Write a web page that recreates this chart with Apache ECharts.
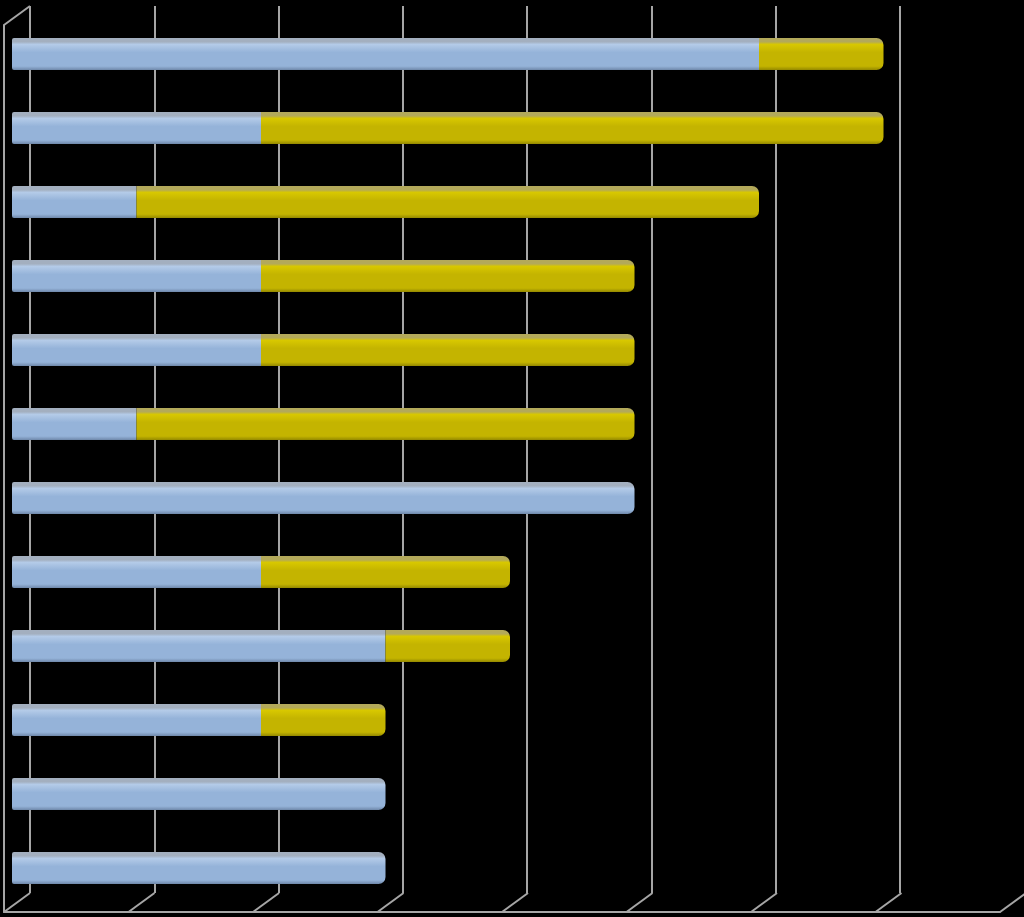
<!DOCTYPE html>
<html>
<head>
<meta charset="utf-8">
<script src="https://cdn.jsdelivr.net/npm/echarts@6/dist/echarts.min.js"></script>
<style>
html,body{margin:0;padding:0;background:#000;}
#chart{width:1024px;height:917px;}
</style>
</head>
<body>
<div id="chart"></div>
<script>
// ---- data ----
const categories = ["Row 1","Row 2","Row 3","Row 4","Row 5","Row 6","Row 7","Row 8","Row 9","Row 10","Row 11","Row 12"];
const blueValues = [6,2,1,2,2,1,5,2,3,2,3,3];
const yellowValues = [1,5,5,3,3,4,0,2,1,1,0,0];
const tickValues = [0,1,2,3,4,5,6,7,8];

// ---- styles ----
const gridColor = '#a6a6a6';
const depthDX = 26, depthDY = -19;

function grad(top, hi, mid, low){
  return new echarts.graphic.LinearGradient(0,0,0,1,[
    {offset:0, color:top},
    {offset:0.12, color:top},
    {offset:0.2, color:hi},
    {offset:0.45, color:mid},
    {offset:0.88, color:mid},
    {offset:1, color:low}
  ]);
}
const blueFill = grad('#a3afbf','#b4cbe8','#95b3d9','#6f88aa');
const yellowFill = grad('#b3a95a','#d8c800','#c4b400','#948800');

const blueData = blueValues.map((v,i)=>({
  value:v,
  itemStyle: yellowValues[i]===0 ? {borderRadius:[2,7,7,2]} : {borderRadius:[2,0,0,2]}
}));
const yellowData = yellowValues.map(v=>({value:v, itemStyle:{borderRadius:[0,7,7,0]}}));

const chart = echarts.init(document.getElementById('chart'), null, {renderer:'canvas'});
chart.setOption({
  backgroundColor:'#000',
  animation:false,
  grid:[
    {left:12, top:17, width:996, height:888},   // bars
    {left:30, top:6, width:996, height:887},    // back wall
    {left:4, top:25, width:996, height:887}     // front frame
  ],
  xAxis:[
    {gridIndex:0, type:'value', min:0, max:8, interval:1, show:false},
    {gridIndex:1, type:'value', min:0, max:8, interval:1,
      axisLine:{show:false}, axisTick:{show:false}, axisLabel:{show:false},
      splitLine:{show:true, showMaxLine:false, lineStyle:{color:gridColor, width:2}}},
    {gridIndex:2, type:'value', min:0, max:8, interval:1,
      axisLine:{show:true, onZero:false, lineStyle:{color:gridColor, width:2}},
      axisTick:{show:false}, axisLabel:{show:false}, splitLine:{show:false}}
  ],
  yAxis:[
    {gridIndex:0, type:'category', data:categories, inverse:true, show:false},
    {gridIndex:1, type:'value', min:0, max:1, show:false, splitLine:{show:false}},
    {gridIndex:2, type:'value', min:0, max:1,
      axisLine:{show:true, onZero:false, lineStyle:{color:gridColor, width:2}},
      axisTick:{show:false}, axisLabel:{show:false}, splitLine:{show:false}}
  ],
  series:[
    {
      type:'custom', xAxisIndex:2, yAxisIndex:2, silent:true, z:1,
      data: tickValues.map(v=>[v]),
      renderItem:function(params, api){
        const v = api.value(0);
        const p = api.coord([v,0]);
        const children = [{
          type:'line',
          shape:{x1:p[0], y1:p[1], x2:p[0]+depthDX, y2:p[1]+depthDY},
          style:{stroke:gridColor, lineWidth:2}
        }];
        if (v===0){
          const t = api.coord([0,1]);
          children.push({
            type:'line',
            shape:{x1:t[0], y1:t[1], x2:t[0]+depthDX, y2:t[1]+depthDY},
            style:{stroke:gridColor, lineWidth:2}
          });
        }
        return {type:'group', children:children};
      }
    },
    {
      name:'Blue', type:'bar', stack:'total', xAxisIndex:0, yAxisIndex:0,
      barWidth:32, z:3,
      itemStyle:{color:blueFill},
      data: blueData
    },
    {
      name:'Yellow', type:'bar', stack:'total', xAxisIndex:0, yAxisIndex:0,
      barWidth:32, z:3,
      itemStyle:{color:yellowFill},
      data: yellowData
    }
  ]
});
</script>
</body>
</html>
